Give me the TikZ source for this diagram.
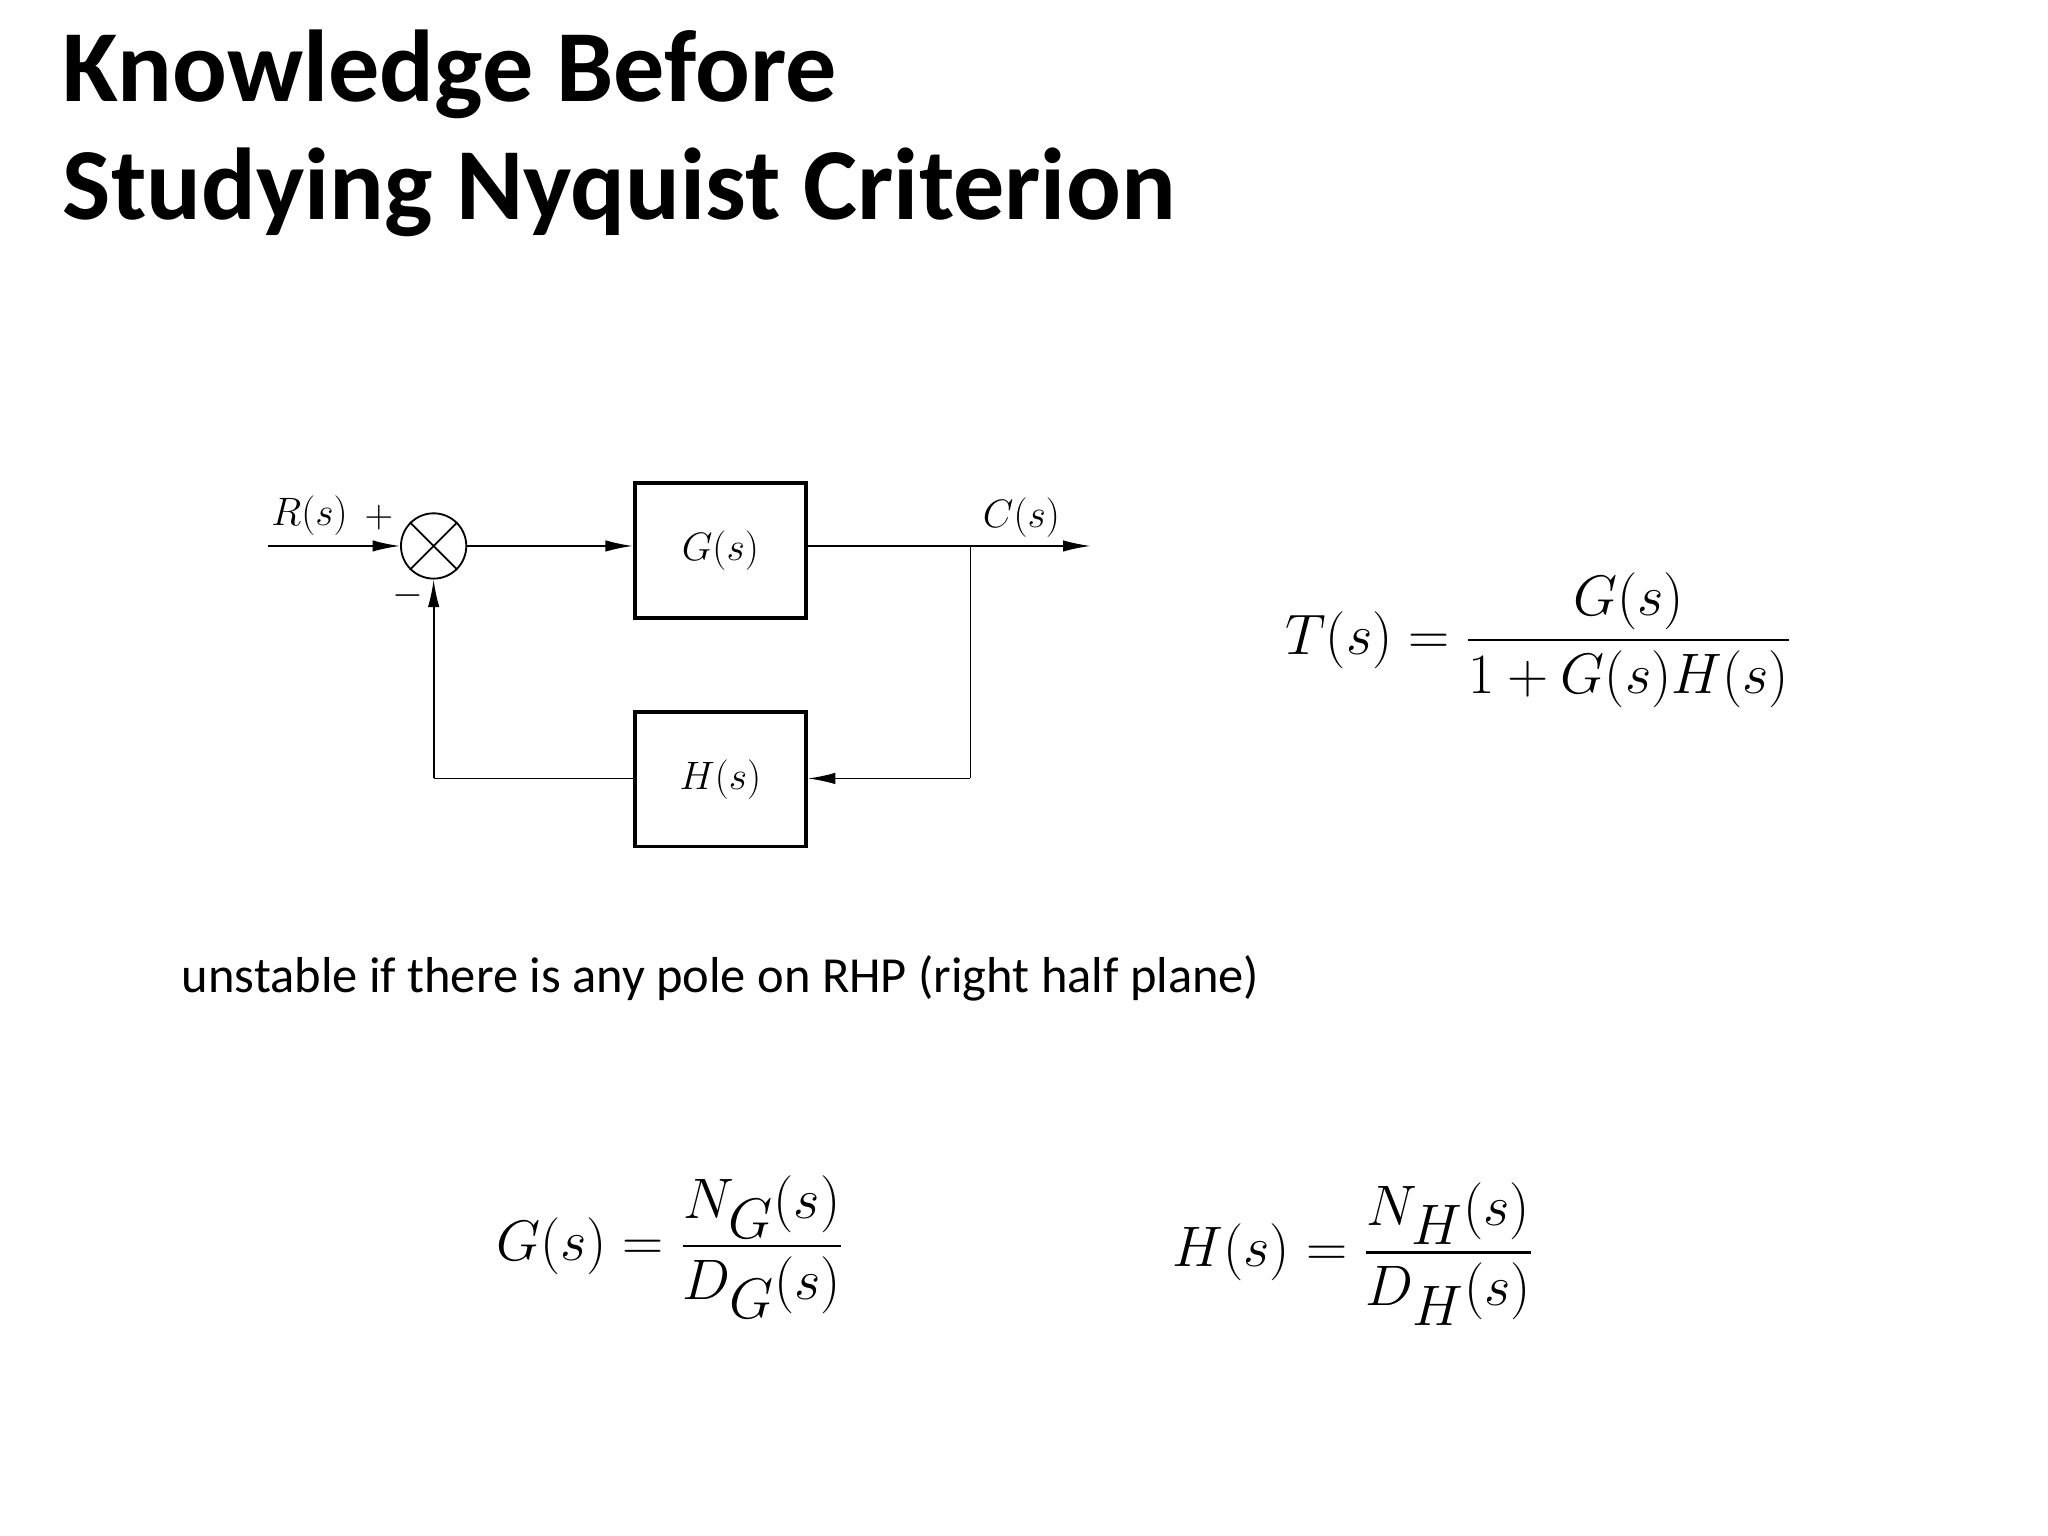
\documentclass[tikz,border=0pt]{standalone}
\usepackage{amsmath}
\usepackage{fontspec}
\setmainfont{Carlito}
\usetikzlibrary{arrows.meta}
\begin{document}
\begin{tikzpicture}[x=0.02cm,y=-0.02cm,
  blk/.style={draw,line width=1.6pt,minimum width=131*0.02cm,minimum height=103*0.02cm,inner sep=0pt,font=\fontsize{16}{18}\selectfont},
  wire/.style={line width=0.8pt},
  arr/.style={wire,-{Latex[length=12pt,width=5pt]}},
  lbl/.style={font=\fontsize{16}{18}\selectfont},
  eq/.style={font=\fontsize{36}{42}\selectfont}]
\useasboundingbox (0,0) rectangle (1568,1176);
\node[anchor=base west,font=\fontsize{44.5}{50}\selectfont\bfseries] (t1) at (42,78) {Knowledge Before};
\node[anchor=base west,font=\fontsize{44.5}{50}\selectfont\bfseries] (t2) at (42,168) {Studying Nyquist Criterion};
% block diagram
\node[draw,circle,wire,minimum size=50*0.02cm,inner sep=0pt] (sum) at (332,418) {};
\draw[wire] (sum.45) -- (sum.225) (sum.135) -- (sum.315);
\node[blk] (G) at (551.5,421.5) {$G(s)$};
\node[blk] (H) at (551.5,596.5) {$H(s)$};
\coordinate (in) at (205,418);
\coordinate (out) at (835,418);
\coordinate (br) at (743,418);
\coordinate (c1) at (743,596);
\coordinate (c2) at (332,596);
\draw[arr] (in) -- (sum);
\draw[arr] (sum) -- (G.west |- sum);
\draw[arr] (G.east |- out) -- (out);
\draw[wire] (br) -- (c1);
\draw[arr] (c1) -- (H.east |- c1);
\draw[wire] (H.west |- c2) -- (c2);
\draw[arr] (c2) -- (sum);
\node[lbl] (R) at (237,395) {$R(s)$};
\node[lbl] (C) at (782,396) {$C(s)$};
\node[lbl] (p) at (290,396) {$+$};
\node[lbl] (m) at (312,456) {$-$};
% equations
\node[font=\fontsize{43}{50}\selectfont] (T) at (1178,490) {$T(s)=\dfrac{G(s)}{1+G(s)H(s)}$};
\node[anchor=base west,font=\fontsize{22}{26}\selectfont] (u) at (133,760) {unstable if there is any pole on RHP (right half plane)};
\node[eq] (Ge) at (513,955) {$G(s)=\dfrac{N_G(s)}{D_G(s)}$};
\node[eq] (He) at (1036,960) {$H(s)=\dfrac{N_H(s)}{D_H(s)}$};
\end{tikzpicture}
\end{document}
